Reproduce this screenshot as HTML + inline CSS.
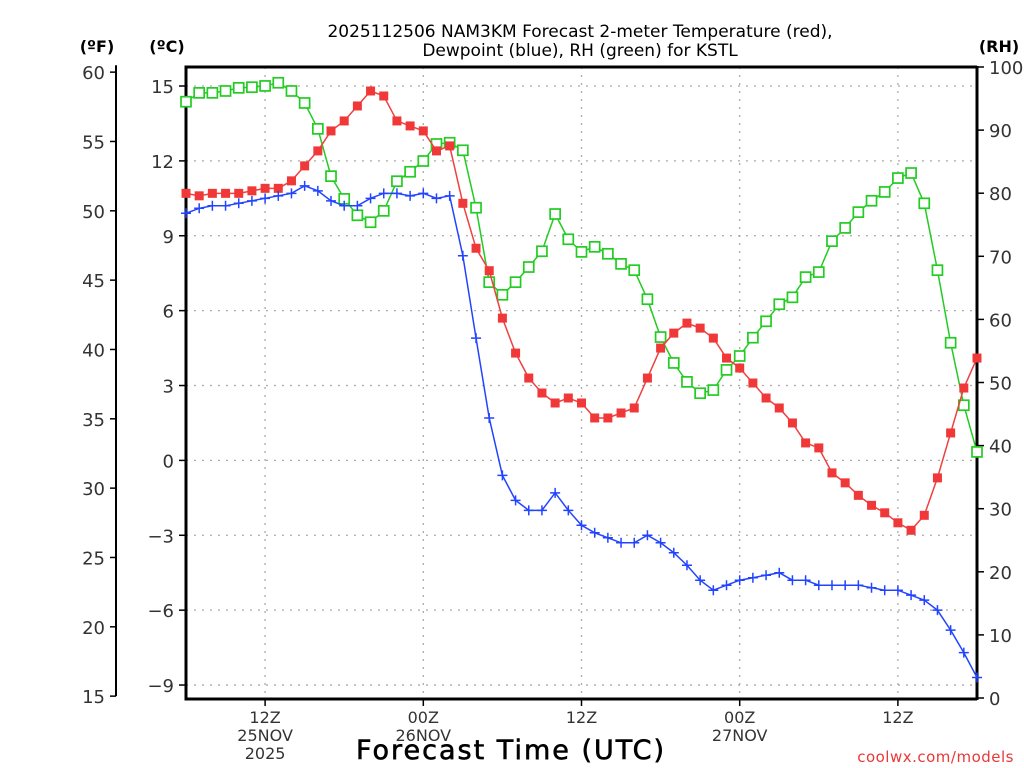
<!DOCTYPE html>
<html><head><meta charset="utf-8"><style>
html,body{margin:0;padding:0;background:#fff;}
svg{display:block;font-family:"DejaVu Sans","Liberation Sans",sans-serif;}
</style></head><body>
<svg id="chart" width="1024" height="768" xmlns="http://www.w3.org/2000/svg">
<text x="580" y="37" font-size="17" text-anchor="middle" fill="#000">2025112506 NAM3KM Forecast 2-meter Temperature (red),</text>
<text x="580" y="56" font-size="17" text-anchor="middle" fill="#000">Dewpoint (blue), RH (green) for KSTL</text>
<text x="97" y="52" font-size="16" font-weight="bold" text-anchor="middle">(ºF)</text>
<text x="167" y="52" font-size="16" font-weight="bold" text-anchor="middle">(ºC)</text>
<text x="999" y="52" font-size="16" font-weight="bold" text-anchor="middle">(RH)</text>
<text x="511" y="759" font-size="27" text-anchor="middle" letter-spacing="2" stroke="#000" stroke-width="0.6">Forecast Time (UTC)</text>
<text x="1014" y="762" font-size="15" text-anchor="end" fill="#e83838" letter-spacing="0.5">coolwx.com/models</text>
<g id="grid"></g><g id="axes"></g><g id="series"></g>
</svg>
<script>
const hours = Array.from({length:61},(_,i)=>i); // hours since 06Z 25NOV
const tempC = [10.7,10.6,10.7,10.7,10.7,10.8,10.9,10.9,11.2,11.8,12.4,13.2,13.6,14.2,14.8,14.6,13.6,13.4,13.2,12.4,12.6,10.3,8.5,7.6,5.7,4.3,3.3,2.7,2.3,2.5,2.3,1.7,1.7,1.9,2.1,3.3,4.5,5.1,5.5,5.3,4.9,4.1,3.7,3.1,2.5,2.1,1.5,0.7,0.5,-0.5,-0.9,-1.4,-1.8,-2.1,-2.5,-2.8,-2.2,-0.7,1.1,2.9,4.1];
const dewC = [9.9,10.1,10.2,10.2,10.3,10.4,10.5,10.6,10.7,11.0,10.8,10.4,10.2,10.2,10.5,10.7,10.7,10.6,10.7,10.5,10.6,8.2,4.9,1.7,-0.6,-1.6,-2.0,-2.0,-1.3,-2.0,-2.6,-2.9,-3.1,-3.3,-3.3,-3.0,-3.3,-3.7,-4.2,-4.8,-5.2,-5.0,-4.8,-4.7,-4.6,-4.5,-4.8,-4.8,-5.0,-5.0,-5.0,-5.0,-5.1,-5.2,-5.2,-5.4,-5.6,-6.0,-6.8,-7.7,-8.7];
const rh = [94.5,95.9,95.9,96.2,96.7,96.8,97.0,97.5,96.2,94.3,90.2,82.7,79.1,76.5,75.4,77.2,81.9,83.4,85.1,87.8,88.0,86.8,77.7,65.9,63.9,65.9,68.3,70.8,76.7,72.7,70.7,71.5,70.4,68.8,67.8,63.2,57.2,53.1,50.1,48.3,48.8,52.0,54.2,57.1,59.7,62.4,63.5,66.7,67.5,72.4,74.5,77.0,78.8,80.2,82.4,83.2,78.4,67.8,56.3,46.4,39.0];
const cTicks = [15,12,9,6,3,0,-3,-6,-9];
const fTicks = [60,55,50,45,40,35,30,25,20,15];
const rhTicks = [100,90,80,70,60,50,40,30,20,10,0];
const timeTickHours = [6,18,30,42,54];
const timeTickLabels = [["12Z","25NOV","2025"],["00Z","26NOV"],["12Z"],["00Z","27NOV"],["12Z"]];

const NS="http://www.w3.org/2000/svg";
const X0=186,X1=977,Y0=67,Y1=699;
const xs=h=>X0+(X1-X0)*h/60;
const yC=c=>460.4-24.96*c;
const yF=f=>yC((f-32)/1.8);
const yR=r=>698-6.31*r;
function mk(tag,attrs,parent){const e=document.createElementNS(NS,tag);for(const k in attrs)e.setAttribute(k,attrs[k]);parent.appendChild(e);return e;}
const grid=document.getElementById('grid'),axes=document.getElementById('axes'),ser=document.getElementById('series');

cTicks.forEach(c=>{
  const g=mk('line',{x1:X0,x2:X1,y1:yC(c),y2:yC(c),stroke:'#aaa','stroke-width':1.3,'stroke-dasharray':'2,6'},grid);
  
  
  const t=mk('line',{x1:X0-7,x2:X0,y1:yC(c),y2:yC(c),stroke:'#000','stroke-width':1.5},axes);
  
  
  const l=mk('text',{x:X0-12,y:yC(c)+7,'font-size':18,'text-anchor':'end',fill:'#333'},axes);
  l.textContent=(c<0?'\u2212'+(-c):''+c);
  
  
});
timeTickHours.forEach((h,i)=>{
  const g=mk('line',{x1:xs(h),x2:xs(h),y1:Y0,y2:Y1,stroke:'#aaa','stroke-width':1.3,'stroke-dasharray':'2,6'},grid);
  
  
  const t=mk('line',{x1:xs(h),x2:xs(h),y1:Y1,y2:Y1+7,stroke:'#000','stroke-width':1.5},axes);
  
  
  timeTickLabels[i].forEach((s,j)=>{
    const l=mk('text',{x:xs(h),y:723+j*18,'font-size':16,'text-anchor':'middle',fill:'#333'},axes);
    l.textContent=s;
    
    
  });
});
const fl=mk('line',{x1:116,x2:116,y1:yF(60.5),y2:yF(15),stroke:'#000','stroke-width':2},axes);


fTicks.forEach(f=>{
  const t=mk('line',{x1:110,x2:116,y1:yF(f),y2:yF(f),stroke:'#000','stroke-width':1.5},axes);
  
  
  const l=mk('text',{x:105,y:yF(f)+7,'font-size':18,'text-anchor':'end',fill:'#333'},axes);
  l.textContent=f;
  
  
});
rhTicks.forEach(r=>{
  const t=mk('line',{x1:X1,x2:X1+7,y1:yR(r),y2:yR(r),stroke:'#000','stroke-width':1.5},axes);
  
  
  const l=mk('text',{x:X1+12,y:yR(r)+7,'font-size':18,'text-anchor':'start',fill:'#333'},axes);
  l.textContent=r;
  
  
});
const frame=mk('path',{d:`M${X1},${Y0} H${X0} V${Y1} H${X1}`,fill:'none',stroke:'#000','stroke-width':3},axes);


const rframe=mk('line',{x1:X1,x2:X1,y1:Y0-1,y2:Y1+1,stroke:'#000','stroke-width':3},axes);



function series(vals,yf,color,name){
  const pts=vals.map((v,i)=>[xs(hours[i]),yf(v)]);
  const pl=mk('polyline',{points:pts.map(p=>p.join(',')).join(' '),fill:'none',stroke:color,'stroke-width':1.5},ser);
  
  
  return pts;
}
series(rh,yR,'#22cc22','rh').forEach(p=>{
  const m=mk('rect',{x:p[0]-5,y:p[1]-5,width:10,height:10,fill:'#fff',stroke:'#22cc22','stroke-width':1.7},ser);
  
  
});
series(tempC,yC,'#f04040','temperature').forEach(p=>{
  const m=mk('rect',{x:p[0]-4.5,y:p[1]-4.5,width:9,height:9,fill:'#f03838'},ser);
  
  
});
series(dewC,yC,'#2244ff','dewpoint').forEach(p=>{
  const m=mk('path',{d:`M${p[0]-5},${p[1]} H${p[0]+5} M${p[0]},${p[1]-5} V${p[1]+5}`,stroke:'#2244ff','stroke-width':1.5},ser);
  
  
});
</script>
</body></html>
